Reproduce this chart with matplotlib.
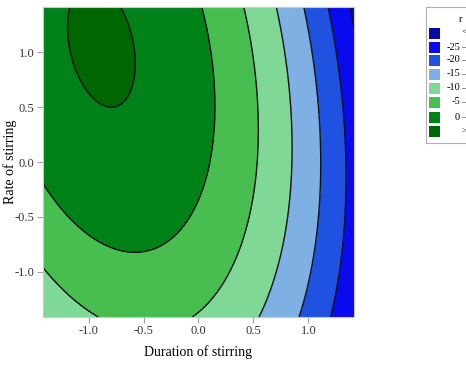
import numpy as np
import matplotlib
matplotlib.use("Agg")
import matplotlib.pyplot as plt
from matplotlib.patches import Rectangle

# Fitted response-surface coefficients (read from the contour positions)
# z = b0 + b1*x + b2*y + b11*x^2 + b22*y^2 + b12*x*y
b0, b1, b2, b11, b22, b12 = 0.892, -8.027, 1.984, -5.643, -1.689, -1.820

levels = [-100, -25, -20, -15, -10, -5, 0, 5, 100]
colors = ["#0a0aa8", "#0a0aee", "#2052e2", "#7eb0e4", "#80d896",
          "#48be50", "#008219", "#006600"]
legend_left = ["", "-25", "-20", "-15", "-10", "-5", "0", ""]
legend_right = ["<", "–", "–", "–", "–", "–", "–", ">"]
ticks = [-1.0, -0.5, 0.0, 0.5, 1.0]
tick_labels = ["-1.0", "-0.5", "0.0", "0.5", "1.0"]
lim = 1.414

W, H = 466, 365
fig = plt.figure(figsize=(W / 100, H / 100), dpi=100)
ax = fig.add_axes([43 / W, 48 / H, 311 / W, 310 / H])

g = np.linspace(-lim, lim, 300)
X, Y = np.meshgrid(g, g)
Z = b0 + b1 * X + b2 * Y + b11 * X ** 2 + b22 * Y ** 2 + b12 * X * Y
ax.contourf(X, Y, Z, levels=levels, colors=colors)
ax.contour(X, Y, Z, levels=levels[1:-1], colors="#101010", linewidths=1.0,
           linestyles="solid")

ax.set_xlim(-lim, lim)
ax.set_ylim(-lim, lim)
serif = "Liberation Serif"
ax.set_xticks(ticks)
ax.set_xticklabels(tick_labels, family=serif, fontsize=9, color="#333333")
ax.set_yticks(ticks)
ax.set_yticklabels(tick_labels, family=serif, fontsize=9, color="#333333")
ax.tick_params(length=4, width=0.8, color="#a0a0a0", pad=2)
for s in ax.spines.values():
    s.set_color("#c8c8c8")
    s.set_linewidth(0.8)
ax.set_xlabel("Duration of stirring", family=serif, fontsize=10)
ax.xaxis.set_label_coords(0.5, -(345 - 317) / 310)
ax.set_ylabel("Rate of stirring", family=serif, fontsize=10)
ax.yaxis.set_label_coords(-(43 - 17) / 311, 0.5)

# Legend drawn on figure (partially cut off at right edge as in reference)
box = Rectangle((426 / W, 1 - 143 / H), 60 / W, 136 / H, transform=fig.transFigure,
                facecolor="white", edgecolor="#b0b0b0", linewidth=0.8)
fig.add_artist(box)
fig.text(459 / W, 1 - 20 / H, "r", family=serif, fontsize=7.5, ha="left", va="center")
row_y = [33, 47, 60, 74, 88, 102, 117, 132]
for i in range(8):
    yc = row_y[i]
    fig.add_artist(Rectangle((429 / W, 1 - (yc + 5.5) / H), 11 / W, 11 / H,
                             transform=fig.transFigure, facecolor=colors[i],
                             edgecolor="none"))
    if legend_left[i]:
        fig.text(460 / W, 1 - yc / H, legend_left[i], family=serif, fontsize=7.5,
                 ha="right", va="center")
    fig.text(461.5 / W, 1 - yc / H, legend_right[i], family=serif, fontsize=6.5,
             ha="left", va="center")

fig.savefig("out.png", dpi=100)
